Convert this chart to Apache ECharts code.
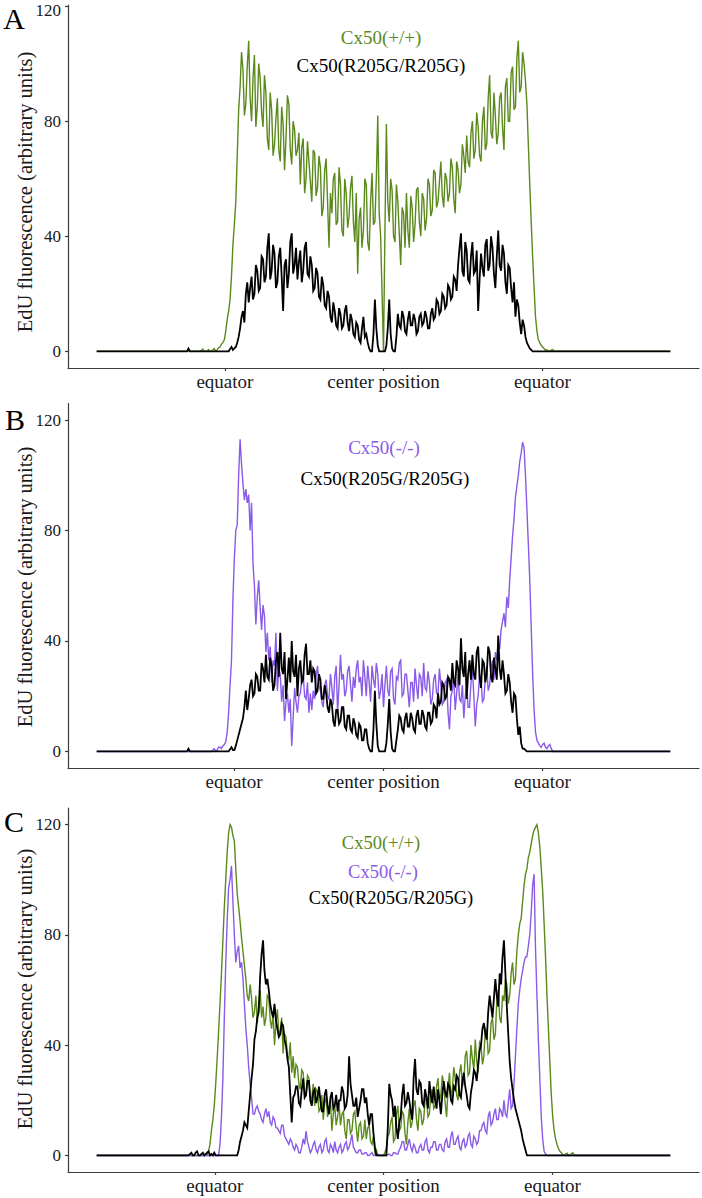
<!DOCTYPE html>
<html>
<head>
<meta charset="utf-8">
<script src="https://cdn.jsdelivr.net/npm/echarts@6/dist/echarts.min.js"></script>
<style>
html,body{margin:0;padding:0;background:#fff;}
#c{width:702px;height:1198px;}
</style>
</head>
<body>
<div id="c"></div>
<script>
// x is measured in profile-sample units (0..200), samples every STEP
const STEP = 0.5;
// ---- tick labels / positions ----
const tickLabels = ['equator', 'center position', 'equator'];
const A_ticks = [44.7, 100, 155.4];
const B_ticks = [47.9, 100, 155.4];
const C_ticks = [41.2, 100, 158.9];
const yTicks = [0, 40, 80, 120];
const yTitle = 'EdU fluorescence (arbitrary units)';

const seriesNames = ['Cx50(+/+)', 'Cx50(-/-)', 'Cx50(R205G/R205G)'];

// ---- Panel A ----
const A_wt = [
 0,0,0,0,0,0,0,0,0,0,0,0,0,0,0,0,0,0,0,0,
 0,0,0,0,0,0,0,0,0,0,0,0,0,0,0,0,0,0,0,0,
 0,0,0,0,0,0,0,0,0,0,0,0,0,0,0,0,0,0,0,0,
 0,0,0,0,0,0,0,0,0,0,0,0,0,0.3,0.8,0,0,0,0.6,0,
 0,0.4,1,0,0.5,1.2,1.5,2.5,3,4,7,11,14,18,26,37,44,52,68,84,
 92,104,98,82,86,99,108,88,80,95,103,78,85,100,95,83,78,96,90,74,
 70,90,84,68,72,81,88,70,66,85,79,63,74,89,86,70,65,80,77,68,
 70,76,58,71,74,55,60,73,66,59,52,70,69,54,57,68,64,47,50,63,
 67,52,36,55,48,60,62,44,45,64,58,42,40,60,55,43,47,57,61,45,
 38,55,27,46,50,36,42,60,58,38,35,52,62,44,45,60,82,48,40,20,
 0,42,79,52,45,60,56,40,38,58,52,41,30,50,48,36,55,42,36,54,
 50,38,44,56,57,45,40,55,53,42,46,60,58,47,49,63,62,50,52,59,
 66,54,50,62,60,52,55,67,64,53,48,66,63,55,58,72,68,62,75,66,
 64,76,80,67,70,83,78,68,66,80,85,70,72,88,96,76,74,90,82,72,
 76,88,90,78,70,92,95,80,80,97,99,84,85,102,108,90,92,104,100,94,
 86,72,58,45,33,22,12,7,4,3,2,1.5,1,0.3,0.5,0,0,0.4,0.6,0,
 0,0,0,0,0,0,0,0,0,0,0,0,0,0,0,0,0,0,0,0,
 0,0,0,0,0,0,0,0,0,0,0,0,0,0,0,0,0,0,0,0,
 0,0,0,0,0,0,0,0,0,0,0,0,0,0,0,0,0,0,0,0,
 0,0,0,0,0,0,0,0,0,0,0,0,0,0,0,0,0,0,0,0,
 0];
const A_mut = [
 0,0,0,0,0,0,0,0,0,0,0,0,0,0,0,0,0,0,0,0,
 0,0,0,0,0,0,0,0,0,0,0,0,0,0,0,0,0,0,0,0,
 0,0,0,0,0,0,0,0,0,0,0,0,0,0,0,0,0,0,0,0,
 0,0,0,0,1,0,0,0,0,0,0,0,0,0,0,0,0,0,0,0,
 0,0,0,0,0,0,0,0,0,0,0,0,0,0.8,1.5,0.5,1,1.5,3,5,
 8,12,14,10,20,24,17,22,26,18,20,30,28,21,22,33,32,24,26,36,
 41,25,28,37,34,22,24,33,36,26,14,30,32,22,27,38,41,27,30,36,
 25,31,35,24,28,36,38,27,26,33,30,21,22,29,27,19,18,26,23,16,
 15,21,19,12,10,17,14,9,8,15,13,8,9,14,16,10,7,13,11,6,
 5,10,9,4,3,8,12,5,6,3,1,0,0,6,18,8,2,0,0,0,
 0,0,2,8,18,6,1,0,0,5,13,9,8,14,12,7,6,11,14,9,
 9,13,11,6,7,12,13,9,10,14,12,8,8,13,15,11,12,18,17,13,
 14,20,19,15,16,23,22,18,19,26,25,21,30,36,41,28,26,38,35,25,
 24,33,38,27,28,35,14,25,34,29,26,37,39,28,30,40,36,27,22,33,
 42,30,28,37,34,24,20,30,29,22,17,24,12,18,16,10,6,11,9,5,
 3,2,1,0.5,0,0,0,0,0,0,0,0,0,0,0,0,0,0,0,0,
 0,0,0,0,0,0,0,0,0,0,0,0,0,0,0,0,0,0,0,0,
 0,0,0,0,0,0,0,0,0,0,0,0,0,0,0,0,0,0,0,0,
 0,0,0,0,0,0,0,0,0,0,0,0,0,0,0,0,0,0,0,0,
 0,0,0,0,0,0,0,0,0,0,0,0,0,0,0,0,0,0,0,0,
 0];

// ---- Panel B ----
const B_ko = [
 0,0,0,0,0,0,0,0,0,0,0,0,0,0,0,0,0,0,0,0,
 0,0,0,0,0,0,0,0,0,0,0,0,0,0,0,0,0,0,0,0,
 0,0,0,0,0,0,0,0,0,0,0,0,0,0,0,0,0,0,0,0,
 0,0,0,0,0,0,0,0,0,0,0,0,0,0,0,0,0,0,0,0,
 0,0.5,1,0,0.5,1.5,1.5,1,2,2.5,3.5,7,14,24,33,55,70,80,82,100,
 113,104,97,91,95,90,93,80,90,68,60,46,56,62,52,44,53,49,36,43,
 33,38,25,33,31,43,22,30,28,18,24,11,18,21,14,19,2,12,23,18,
 14,20,21,26,28,20,19,25,14,21,15,22,19,27,31,24,22,18,16,24,
 26,20,19,28,23,17,27,31,14,24,35,26,28,20,22,29,31,24,18,27,
 23,30,33,25,27,20,33,27,20,31,25,18,31,26,23,32,28,19,22,28,
 16,24,31,22,20,29,30,19,17,27,26,32,33,20,21,28,28,22,16,25,
 25,18,30,24,19,28,27,20,32,23,22,29,25,17,19,26,28,21,21,30,
 24,17,18,25,26,14,8,20,22,27,15,21,28,19,18,24,12,20,24,16,
 16,25,30,20,9,17,20,28,26,18,19,27,31,22,24,30,33,26,36,33,
 40,37,44,47,50,45,56,52,62,70,78,84,92,96,100,105,108,112,110,100,
 88,75,62,45,28,15,7,4,3,2,1.5,2.5,3,1.5,1,2,2.5,1,0,0,
 0,0,0,0,0,0,0,0,0,0,0,0,0,0,0,0,0,0,0,0,
 0,0,0,0,0,0,0,0,0,0,0,0,0,0,0,0,0,0,0,0,
 0,0,0,0,0,0,0,0,0,0,0,0,0,0,0,0,0,0,0,0,
 0,0,0,0,0,0,0,0,0,0,0,0,0,0,0,0,0,0,0,0,
 0];
const B_mut = [
 0,0,0,0,0,0,0,0,0,0,0,0,0,0,0,0,0,0,0,0,
 0,0,0,0,0,0,0,0,0,0,0,0,0,0,0,0,0,0,0,0,
 0,0,0,0,0,0,0,0,0,0,0,0,0,0,0,0,0,0,0,0,
 0,0,0,0,1,0,0,0,0,0,0,0,0,0,0,0,0,0,0,0,
 0,0,0,0,0,0,0,0,0,0,0,0,0,0.8,1.5,0.5,0.5,2,4,6,
 8,10,12,16,22,15,19,24,26,20,21,28,27,22,22,32,30,25,35,27,
 26,34,31,22,24,33,36,27,43,30,28,36,19,26,34,25,40,29,27,35,
 20,30,33,25,26,35,39,28,28,33,25,30,29,21,22,28,26,19,19,24,
 21,16,14,19,17,11,9,15,15,10,11,16,16,9,8,13,13,8,7,12,
 10,6,5,10,9,4,4,8,8,3,1,0,0,8,22,10,2,0,0,0,
 0,0,3,10,19,7,1,0,0,4,8,13,12,8,7,12,14,9,9,14,
 12,8,7,13,15,10,10,15,13,9,8,14,14,10,11,17,16,12,21,17,
 18,25,24,19,20,27,26,22,32,25,24,33,30,24,41,30,27,36,19,28,
 33,26,35,28,26,36,38,27,23,33,32,25,28,38,36,27,25,34,30,26,
 42,30,26,33,28,21,22,28,25,18,14,21,20,12,6,9,3,1,1,0.5,
 0,0,0,0,0,0,0,0,0,0,0,0,0,0,0,0,0,0,0,0,
 0,0,0,0,0,0,0,0,0,0,0,0,0,0,0,0,0,0,0,0,
 0,0,0,0,0,0,0,0,0,0,0,0,0,0,0,0,0,0,0,0,
 0,0,0,0,0,0,0,0,0,0,0,0,0,0,0,0,0,0,0,0,
 0,0,0,0,0,0,0,0,0,0,0,0,0,0,0,0,0,0,0,0,
 0];

// ---- Panel C ----
const C_wt = [
 0,0,0,0,0,0,0,0,0,0,0,0,0,0,0,0,0,0,0,0,
 0,0,0,0,0,0,0,0,0,0,0,0,0,0,0,0,0,0,0,0,
 0,0,0,0,0,0,0,0,0,0,0,0,0,0,0,0,0,0,0,0,
 0,0,0,0,0,0,0,0,0,0,0,0,0,0,0,0.3,0.5,0,1.5,4,
 9,13,18,26,35,45,55,66,78,90,100,110,117,120,119,116,114,104,95,90,
 85,79,74,69,64,58,56,62,57,50,52,58,48,55,60,50,54,47,50,58,
 57,49,46,52,40,48,53,44,45,50,37,44,43,36,35,41,30,36,28,33,
 32,26,24,31,30,23,22,29,28,20,21,26,18,24,23,16,17,22,13,19,
 21,14,16,20,9,15,18,11,14,19,11,15,16,9,6,13,13,8,9,15,
 16,10,5,11,12,6,7,13,6,10,11,5,4,7,1,2,0,0,0,0,
 0,1,3,7,8,12,14,5,6,15,18,9,10,16,15,8,4,12,17,10,
 12,18,20,13,9,17,16,11,13,20,21,14,15,22,24,17,18,25,28,20,
 22,29,26,19,14,24,30,21,24,32,28,22,20,30,33,25,27,36,38,29,
 30,40,35,31,42,34,30,41,40,33,36,46,45,37,38,48,50,42,44,56,
 60,50,48,58,56,64,62,55,58,66,70,62,64,74,80,84,86,92,98,102,
 104,108,110,113,116,118,119,120,117,112,104,96,84,72,58,46,34,22,14,9,
 6,4,2.5,1.5,1,0.3,0,0.5,0.8,0,0,0.6,1,0,0,0,0,0,0,0,
 0,0,0,0,0,0,0,0,0,0,0,0,0,0,0,0,0,0,0,0,
 0,0,0,0,0,0,0,0,0,0,0,0,0,0,0,0,0,0,0,0,
 0,0,0,0,0,0,0,0,0,0,0,0,0,0,0,0,0,0,0,0,
 0];
const C_ko = [
 0,0,0,0,0,0,0,0,0,0,0,0,0,0,0,0,0,0,0,0,
 0,0,0,0,0,0,0,0,0,0,0,0,0,0,0,0,0,0,0,0,
 0,0,0,0,0,0,0,0,0,0,0,0,0,0,0,0,0,0,0,0,
 0,0,0,0,0,0,0,0,0,0,0,0,0,0,0,0,0,0,0,0,
 0,0,0,0,0,0,4,14,28,50,70,85,97,100,105,92,80,70,74,76,
 68,70,64,55,46,40,32,26,21,15,15,17,18,16,15,13,12,15,17,14,
 16,12,11,14,13,10,10,9,8,11,11,7,6,5,4,6,5,3,2,4,
 3,1,1,3,6,4,8.8,5,3,1,2,4,5,2,1,3,4,1,2,5,
 6,2,1,4,3,1,5,2,1,3,4,1,2,4,5,2,3,5,7.6,3,
 2,1,1,2,2,0.5,0.5,1,1,0,0,0.5,1,0,0,0.3,0.5,0,0,0,
 0,0,0,0.3,0.5,0,0,1,1,0.5,0.5,2,3,5,5,2,2,4,6,3,
 1.5,4,3,1,1,3,4,2,2,5,6,2,1,3,3,5,5,2,2,4,
 4,2,1.5,5,6,3,3,7,8.7,4,4,6,7,3,2,5,6,3,4,7,
 8,4,3,7,6,4,5,9,9,11,12,9,8,14,16,11,12,15,17,13,
 13,17,16,14,20,15,14,19,24,17,18,26,36,46,55,60,64,67,70,72,
 72,76,80,88,98,102,75,58,42,28,14,6,1.5,0.5,0,0,0,0,0,0,
 0,0,0,0,0,0,0,0,0,0,0,0,0,0,0,0,0,0,0,0,
 0,0,0,0,0,0,0,0,0,0,0,0,0,0,0,0,0,0,0,0,
 0,0,0,0,0,0,0,0,0,0,0,0,0,0,0,0,0,0,0,0,
 0,0,0,0,0,0,0,0,0,0,0,0,0,0,0,0,0,0,0,0,
 0];
const C_mut = [
 0,0,0,0,0,0,0,0,0,0,0,0,0,0,0,0,0,0,0,0,
 0,0,0,0,0,0,0,0,0,0,0,0,0,0,0,0,0,0,0,0,
 0,0,0,0,0,0,0,0,0,0,0,0,0,0,0,0,0,0,0,0,
 0,0,0,0,0,0.5,1,0,0,1,1.5,0,0,0.5,1,0,0.5,1,1.5,0,
 0.5,0,1,0,0,0,0,0,0,0,0,0,0,0,0,0,0,0,0,2,
 5,7,9,12,11,10,16,22,28,33,42,45,50,52,65,73,78,67,62,64,
 60,55,52,50,55,49,46,43,44,48,47,42,40,35,32,22,12,21,22,25,
 25,19,18,24,28,21,22,27,27,20,18,23,24,19,21,25,20,16,16,22,
 24,18,15,21,23,17,18,22,16,20,20,25,23,17,18,22,36,26,22,18,
 18,21,14,17,20,24,24,19,21,15,11,15,15,8,3,0,0,0,0,0,
 0,0,0,10,26,22,20,14,18,10,6,12,14,22,26,18,19,23,20,16,
 13,28,35,24,22,27,26,19,18,24,21,17,27,22,19,25,20,17,24,20,
 15,22,27,23,21,26,25,20,19,25,24,29,28,22,21,27,30,25,22,18,
 17,23,26,31,30,27,33,38,40,46,48,44,42,52,58,54,50,57,64,58,
 54,66,62,72,78,66,54,44,34,28,24,20,17,15,13,11,9,6,4,2,
 0,0,0,0,0,0,0,0,0,0,0,0,0,0,0,0,0,0,0,0,
 0,0,0,0,0,0,0,0,0,0,0,0,0,0,0,0,0,0,0,0,
 0,0,0,0,0,0,0,0,0,0,0,0,0,0,0,0,0,0,0,0,
 0,0,0,0,0,0,0,0,0,0,0,0,0,0,0,0,0,0,0,0,
 0,0,0,0,0,0,0,0,0,0,0,0,0,0,0,0,0,0,0,0,
 0];

[A_wt, A_mut, B_ko, B_mut, C_wt, C_ko, C_mut].forEach((a, k) => {
  if (a.length !== 401) throw new Error('series ' + k + ' has length ' + a.length);
});

// ---- styling ----
const FONT = "'Liberation Serif', 'Times New Roman', serif";
const GREEN = '#5a8a1c';
const PURPLE = '#8a5ae8';
const BLACK = '#000000';
const AXIS = '#3a3a3a';
const TEXT = '#1a1a1a';

const panels = [
  {grid:{left:68, top:5, width:631, height:363}, ymin:-5.8, ymax:120.4, ticks:A_ticks, titleY:192,
   series:[[A_wt, GREEN, 1.4, seriesNames[0]], [A_mut, BLACK, 1.8, seriesNames[2]]]},
  {grid:{left:68, top:403.5, width:631, height:364.5}, ymin:-6, ymax:126, ticks:B_ticks, titleY:587,
   series:[[B_ko, PURPLE, 1.4, seriesNames[1]], [B_mut, BLACK, 1.8, seriesNames[2]]]},
  {grid:{left:68, top:808, width:631, height:364}, ymin:-6, ymax:126, ticks:C_ticks, titleY:989,
   series:[[C_wt, GREEN, 1.4, seriesNames[0]], [C_ko, PURPLE, 1.4, seriesNames[1]], [C_mut, BLACK, 1.8, seriesNames[2]]]}
];

const toPoints = arr => arr.map((v, i) => [i * STEP, v]);

const option = {
  animation: false,
  backgroundColor: '#ffffff',
  grid: panels.map(p => Object.assign({containLabel:false}, p.grid)),
  xAxis: panels.map((p, gi) => ({
    type: 'value', gridIndex: gi, min: -10, max: 210,
    axisLine: {show: true, onZero: false, lineStyle: {color: AXIS, width: 1.2}},
    axisTick: {show: true, customValues: p.ticks, length: 3, lineStyle: {color: AXIS, width: 1.2}},
    axisLabel: {show: false},
    splitLine: {show: false}
  })),
  yAxis: panels.map((p, gi) => ({
    type: 'value', gridIndex: gi, min: p.ymin, max: p.ymax,
    axisLine: {show: true, onZero: false, lineStyle: {color: AXIS, width: 1.2}},
    axisTick: {show: true, customValues: yTicks, length: 3, lineStyle: {color: AXIS, width: 1.2}},
    axisLabel: {show: false},
    splitLine: {show: false}
  })),
  series: []
};

panels.forEach((p, gi) => {
  p.series.forEach(([arr, color, w, name]) => {
    option.series.push({
      type: 'line', name: name, xAxisIndex: gi, yAxisIndex: gi,
      data: toPoints(arr), showSymbol: false, symbol: 'none',
      lineStyle: {color: color, width: w, join: 'miter'}, itemStyle: {color: color},
      silent: true, z: 2
    });
  });
});

const chart = echarts.init(document.getElementById('c'), null, {renderer: 'svg', width: 702, height: 1198});
chart.setOption(option);

// ---- text (axis labels placed through the chart's own scales) ----
const txt = (x, y, s, color, size, align, rot) => ({
  type: 'text', x: x, y: y, rotation: rot || 0, silent: true,
  style: {text: s, x: 0, y: 0, fill: color, font: size + 'px ' + FONT,
          textAlign: align || 'center', textVerticalAlign: 'middle'}
});

const graphics = [
  txt(14, 18, 'A', '#000', 30), txt(15, 419, 'B', '#000', 30), txt(14, 821, 'C', '#000', 30),
  txt(381, 37, seriesNames[0], GREEN, 19), txt(381, 65, seriesNames[2], '#000', 19),
  txt(384, 447, seriesNames[1], PURPLE, 19), txt(385, 478, seriesNames[2], '#000', 19),
  txt(381, 843, seriesNames[0], GREEN, 18.5), txt(383, 872, seriesNames[1], PURPLE, 18.5), txt(391, 898, seriesNames[2], '#000', 18.5)
];

panels.forEach((p, gi) => {
  const axisY = chart.convertToPixel({yAxisIndex: gi}, p.ymin);
  const axisX = chart.convertToPixel({xAxisIndex: gi}, -10);
  p.ticks.forEach((t, j) => {
    const px = chart.convertToPixel({xAxisIndex: gi}, t);
    graphics.push(txt(px, axisY + 13.5, tickLabels[j], TEXT, 19));
  });
  yTicks.forEach(v => {
    const py = chart.convertToPixel({yAxisIndex: gi}, v);
    // keep the topmost label fully inside the picture
    graphics.push(txt(axisX - 7, Math.max(py, 10), String(v), TEXT, 17, 'right'));
  });
  graphics.push(txt(25, p.titleY, yTitle, TEXT, 20.5, 'center', Math.PI / 2));
});

chart.setOption({graphic: graphics});
</script>
</body>
</html>
